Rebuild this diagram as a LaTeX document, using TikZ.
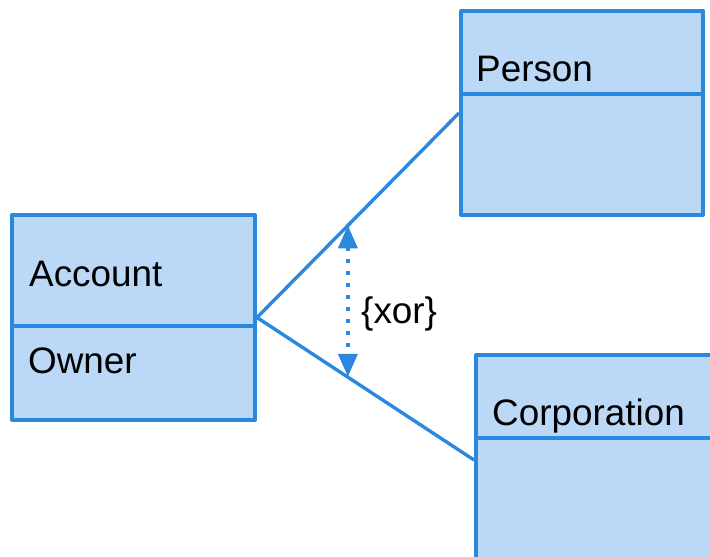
\documentclass[tikz,border=0pt]{standalone}
\usepackage{fontspec}
\setmainfont{Liberation Sans}
\usetikzlibrary{arrows.meta}
\definecolor{umlline}{RGB}{42,137,223}
\definecolor{umlfill}{RGB}{187,216,246}
\begin{document}
\begin{tikzpicture}[x=1bp, y=-1bp,
  classbox/.style={rectangle, draw=umlline, fill=umlfill, line width=4bp, line join=round, inner sep=0pt, anchor=north west},
  classname/.style={anchor=base west, inner sep=0pt, font=\fontsize{37}{44}\selectfont},
  divider/.style={draw=umlline, line width=4bp},
  assoc/.style={draw=umlline, line width=3.4bp},
  xorarrow/.style={umlline, line width=4bp, dash pattern=on 4bp off 8bp, {Triangle[width=19bp,length=23bp]}-{Triangle[width=19bp,length=23bp]}}]
  \useasboundingbox (0,0) rectangle (710,557);
  % Nodes
  \node (account) [classbox, minimum width=243bp, minimum height=205bp] at (10,213) {};
  \node (person) [classbox, minimum width=242bp, minimum height=204bp] at (459,9) {};
  \node (corporation) [classbox, minimum width=250bp, minimum height=210bp] at (474,353) {};
  \draw[divider] (account.west |- 0,326) -- (account.east |- 0,326);
  \draw[divider] (person.west |- 0,94) -- ++(246,0);
  \draw[divider] (corporation.west |- 0,438) -- ++(240,0);
  \node (account-name) [classname] at (29,286) {Account};
  \node (account-owner) [classname] at (28,373) {Owner};
  \node (person-name) [classname] at (476,82) {Person};
  \node (corporation-name) [classname] at (492,425) {Corporation};
  % Arrow
  \draw[assoc] (account.east) -- coordinate[pos=0.45] (xor-top) (person.west);
  \draw[assoc] (account.east) -- coordinate[pos=0.416] (xor-bot) (corporation.west);
  \draw[xorarrow] (xor-top) -- (xor-top |- xor-bot);
  \node (xor) [classname] at (361,323) {\{xor\}};
\end{tikzpicture}
\end{document}
